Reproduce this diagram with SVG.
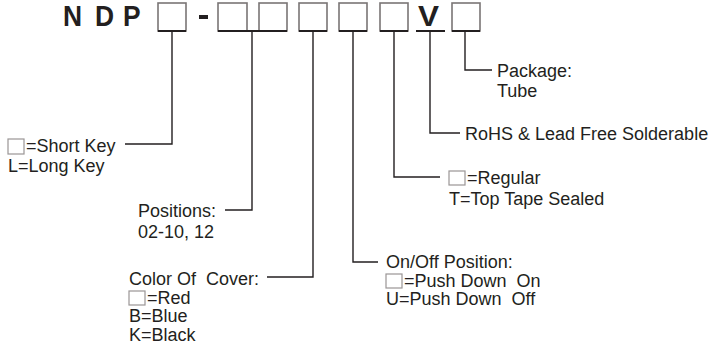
<svg xmlns="http://www.w3.org/2000/svg" width="716" height="346" viewBox="0 0 716 346">
<style>
.t{font-family:"Liberation Sans",Arial,sans-serif;font-size:18px;fill:#231f20;white-space:pre}
.h{font-family:"Liberation Sans",Arial,sans-serif;font-size:30px;font-weight:bold;fill:#231f20}
.bx{fill:#fff;stroke:#7a7575;stroke-width:1.6}
.sb{fill:#fff;stroke:#9a9595;stroke-width:1.2}
.ul{stroke:#231f20;stroke-width:1.8;fill:none}
.c{stroke:#231f20;stroke-width:1.4;fill:none}
</style>
<rect width="716" height="346" fill="#fff"/>
<g id="title">
<text class="h" transform="translate(63,26) scale(0.88,1)">N</text>
<text class="h" transform="translate(95,26) scale(0.88,1)">D</text>
<text class="h" transform="translate(123,26) scale(0.88,1)">P</text>
<rect x="199" y="15" width="9" height="4" fill="#231f20"/>
<text class="h" transform="translate(418,26) scale(1.05,1)">V</text>
</g>
<g id="boxes">
<rect class="bx" x="158" y="3" width="28" height="28"/>
<rect class="bx" x="218" y="3" width="29" height="28"/>
<rect class="bx" x="259" y="3" width="28" height="28"/>
<rect class="bx" x="299" y="3" width="28" height="28"/>
<rect class="bx" x="339" y="3" width="28" height="28"/>
<rect class="bx" x="380" y="3" width="28" height="28"/>
<rect class="bx" x="452" y="3" width="28" height="28"/>
<path class="ul" d="M158 31H186M218 31H287M299 31H327M339 31H367M380 31H408M416 31H445M452 31H480"/>
</g>
<g id="connectors">
<path class="c" d="M172 31V144H125"/>
<path class="c" d="M252 31V210H225"/>
<path class="c" d="M313 31V277H267"/>
<path class="c" d="M353 31V262H378"/>
<path class="c" d="M394 31V177H440"/>
<path class="c" d="M430 31V133H460"/>
<path class="c" d="M465 31V70H492"/>
</g>
<g id="key">
<rect class="sb" x="8" y="139" width="16" height="15"/>
<text class="t" x="26" y="152">=Short Key</text>
<text class="t" x="8" y="172">L=Long Key</text>
</g>
<g id="positions">
<text class="t" x="138" y="217">Positions:</text>
<text class="t" x="138" y="238">02-10, 12</text>
</g>
<g id="cover">
<text class="t" x="129" y="285">Color Of  Cover:</text>
<rect class="sb" x="129" y="291" width="16" height="14"/>
<text class="t" x="147" y="304">=Red</text>
<text class="t" x="129" y="322">B=Blue</text>
<text class="t" x="129" y="341">K=Black</text>
</g>
<g id="onoff">
<text class="t" x="386" y="268">On/Off Position:</text>
<rect class="sb" x="386" y="274" width="16" height="14"/>
<text class="t" x="404" y="287">=Push Down  On</text>
<text class="t" x="386" y="305">U=Push Down  Off</text>
</g>
<g id="tape">
<rect class="sb" x="449" y="171" width="16" height="14"/>
<text class="t" x="467" y="184">=Regular</text>
<text class="t" x="449" y="205">T=Top Tape Sealed</text>
</g>
<g id="rohs">
<text class="t" x="465" y="140">RoHS &amp; Lead Free Solderable</text>
</g>
<g id="package">
<text class="t" x="497" y="77">Package:</text>
<text class="t" x="497" y="97">Tube</text>
</g>
</svg>
